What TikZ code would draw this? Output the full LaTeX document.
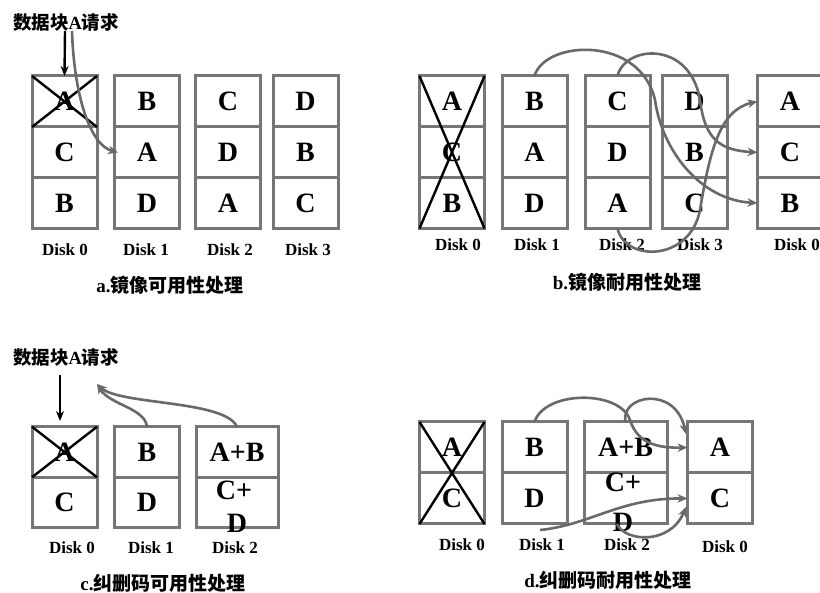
\documentclass[tikz,border=0pt]{standalone}
\usepackage{fontspec}
\setmainfont{Liberation Serif}
\newfontfamily\cjk{Noto Sans CJK SC}
\usetikzlibrary{arrows.meta}
\definecolor{boxgray}{RGB}{118,118,118}
\definecolor{arrgray}{RGB}{105,105,105}
\tikzset{
  cell/.style={draw=boxgray, line width=3pt, rectangle, inner sep=0pt, outer sep=0pt,
    minimum width=65pt, minimum height=51pt, font=\fontsize{28}{28}\selectfont\bfseries},
  wcell/.style={cell, minimum width=82pt},
  celltext/.style={inner sep=0pt, font=\fontsize{28}{28}\selectfont\bfseries},
  disklabel/.style={inner sep=0pt, font=\fontsize{17}{17}\selectfont\bfseries},
  caption/.style={inner sep=0pt, font=\fontsize{19}{19}\selectfont\bfseries},
  reqtitle/.style={inner sep=0pt, font=\fontsize{18.5}{18.5}\selectfont\bfseries},
  cross/.style={black, line width=2.4pt},
  req/.style={black, line width=2.4pt, -{Stealth[length=10pt,width=8pt]}},
  flow/.style={arrgray, line width=2.6pt, -{Stealth[length=10pt,width=8.5pt]}},
}
\begin{document}
\begin{tikzpicture}[x=1pt,y=-1pt]
\useasboundingbox[fill=white] (0,0) rectangle (820,593);

% ---------- panel a ----------
\node[reqtitle] (ta) at (66,22) {{\cjk\bfseries 数据块}A{\cjk\bfseries 请求}};
\node[cell] (a0r1) at (64.5,101.5) {A};
\node[cell] (a0r2) at (64.5,152.5) {C};
\node[cell] (a0r3) at (64.5,203.5) {B};
\node[cell] (a1r1) at (147,101.5) {B};
\node[cell] (a1r2) at (147,152.5) {A};
\node[cell] (a1r3) at (147,203.5) {D};
\node[cell] (a2r1) at (228,101.5) {C};
\node[cell] (a2r2) at (228,152.5) {D};
\node[cell] (a2r3) at (228,203.5) {A};
\node[cell] (a3r1) at (305.5,101.5) {D};
\node[cell] (a3r2) at (305.5,152.5) {B};
\node[cell] (a3r3) at (305.5,203.5) {C};
\draw[cross] (a0r1.north west) -- (a0r1.south east);
\draw[cross] (a0r1.north east) -- (a0r1.south west);
\node[disklabel] (la0) at (65,250) {Disk 0};
\node[disklabel] (la1) at (146,250) {Disk 1};
\node[disklabel] (la2) at (230,250) {Disk 2};
\node[disklabel] (la3) at (308,250) {Disk 3};
\node[caption] (capa) at (170,285) {a.{\cjk\bfseries 镜像可用性处理}};
\coordinate (areqs) at (65,31);
\coordinate (agrs) at (72,31);
\coordinate (agre) at (118,152.5);
\draw[req] (areqs) -- (a0r1.north);
\draw[flow] (agrs) .. controls (74,95) and (90,145) .. (agre);

% ---------- panel b ----------
\node[cell] (b0r1) at (452,101.5) {A};
\node[cell] (b0r2) at (452,152.5) {C};
\node[cell] (b0r3) at (452,203) {B};
\node[cell] (b1r1) at (534.5,101.5) {B};
\node[cell] (b1r2) at (534.5,152.5) {A};
\node[cell] (b1r3) at (534.5,203) {D};
\node[cell] (b2r1) at (617.5,101.5) {C};
\node[cell] (b2r2) at (617.5,152.5) {D};
\node[cell] (b2r3) at (617.5,203) {A};
\node[cell] (b3r1) at (694.5,101.5) {D};
\node[cell] (b3r2) at (694.5,152.5) {B};
\node[cell] (b3r3) at (694.5,203) {C};
\node[cell] (b4r1) at (790,101.5) {A};
\node[cell] (b4r2) at (790,152.5) {C};
\node[cell] (b4r3) at (790,203) {B};
\draw[cross] (b0r1.north west) -- (b0r3.south east);
\draw[cross] (b0r1.north east) -- (b0r3.south west);
\node[disklabel] (lb0) at (458,245) {Disk 0};
\node[disklabel] (lb1) at (537,245) {Disk 1};
\node[disklabel] (lb2) at (622,245) {Disk 2};
\node[disklabel] (lb3) at (700,245) {Disk 3};
\node[disklabel] (lb4) at (797,245) {Disk 0};
\node[caption] (capb) at (627,282) {b.{\cjk\bfseries 镜像耐用性处理}};
\draw[flow] (b1r1.north) .. controls (545,40) and (640,35) .. (655,100)
  .. controls (662,150) and (700,200) .. (b4r3.west);
\draw[flow] (b2r1.north) .. controls (625,45) and (690,40) .. (700,100)
  .. controls (705,140) and (720,150) .. (b4r2.west);
\draw[flow] (b2r3.south) .. controls (625,262) and (690,262) .. (700,210)
  .. controls (710,150) and (720,110) .. (b4r1.west);

% ---------- panel c ----------
\node[reqtitle] (tc) at (66,357) {{\cjk\bfseries 数据块}A{\cjk\bfseries 请求}};
\node[cell, minimum height=50.5pt] (c0r1) at (64.5,452) {A};
\node[cell, minimum height=50.5pt] (c0r2) at (64.5,502.5) {C};
\node[cell, minimum height=50.5pt] (c1r1) at (147,452) {B};
\node[cell, minimum height=50.5pt] (c1r2) at (147,502.5) {D};
\node[wcell, minimum height=50.5pt] (c2r1) at (237,452) {A+B};
\node[wcell, minimum height=50.5pt] (c2r2) at (237,502.5) {};
\node[celltext] (c2t1) at (234,490) {C+};
\node[celltext] (c2t2) at (237,523) {D};
\draw[cross] (c0r1.north west) -- (c0r1.south east);
\draw[cross] (c0r1.north east) -- (c0r1.south west);
\node[disklabel] (lc0) at (72,548) {Disk 0};
\node[disklabel] (lc1) at (151,548) {Disk 1};
\node[disklabel] (lc2) at (235,548) {Disk 2};
\node[caption] (capc) at (163,583) {c.{\cjk\bfseries 纠删码可用性处理}};
\coordinate (creqs) at (60,375);
\coordinate (creqe) at (60,421);
\coordinate (ctip) at (97,384);
\draw[req] (creqs) -- (creqe);
\draw[flow] (c1r1.north) .. controls (145,408) and (110,405) .. (ctip);
\draw[flow] (c2r1.north) .. controls (225,400) and (120,405) .. (ctip);

% ---------- panel d ----------
\node[cell] (d0r1) at (452,447.5) {A};
\node[cell] (d0r2) at (452,498.5) {C};
\node[cell] (d1r1) at (534.5,447.5) {B};
\node[cell] (d1r2) at (534.5,498.5) {D};
\node[wcell, minimum width=83pt] (d2r1) at (625.5,447.5) {A+B};
\node[wcell, minimum width=83pt] (d2r2) at (625.5,498.5) {};
\node[celltext] (d2t1) at (623,482) {C+};
\node[celltext] (d2t2) at (623,522) {D};
\node[cell] (d4r1) at (720,447.5) {A};
\node[cell] (d4r2) at (720,498.5) {C};
\draw[cross] (d0r1.north west) -- (d0r2.south east);
\draw[cross] (d0r1.north east) -- (d0r2.south west);
\node[disklabel] (ld0) at (462,545) {Disk 0};
\node[disklabel] (ld1) at (542,545) {Disk 1};
\node[disklabel] (ld2) at (627,545) {Disk 2};
\node[disklabel] (ld4) at (725,547) {Disk 0};
\node[caption] (capd) at (608,580) {d.{\cjk\bfseries 纠删码耐用性处理}};
\coordinate (dA2) at (686,434);
\coordinate (dd1) at (540,530);
\coordinate (dC2) at (686,507);
\coordinate (dd2) at (617,524);
\draw[flow] (d1r1.north) .. controls (545,390) and (620,390) .. (630,420)
  .. controls (638,445) and (660,448) .. (d4r1.west);
\draw[flow] (d2r1.north) .. controls (620,395) and (675,385) .. (dA2);
\draw[flow] (dd1) .. controls (590,525) and (620,498) .. (d4r2.west);
\draw[flow] (dd2) .. controls (625,542) and (670,545) .. (dC2);
\end{tikzpicture}
\end{document}
